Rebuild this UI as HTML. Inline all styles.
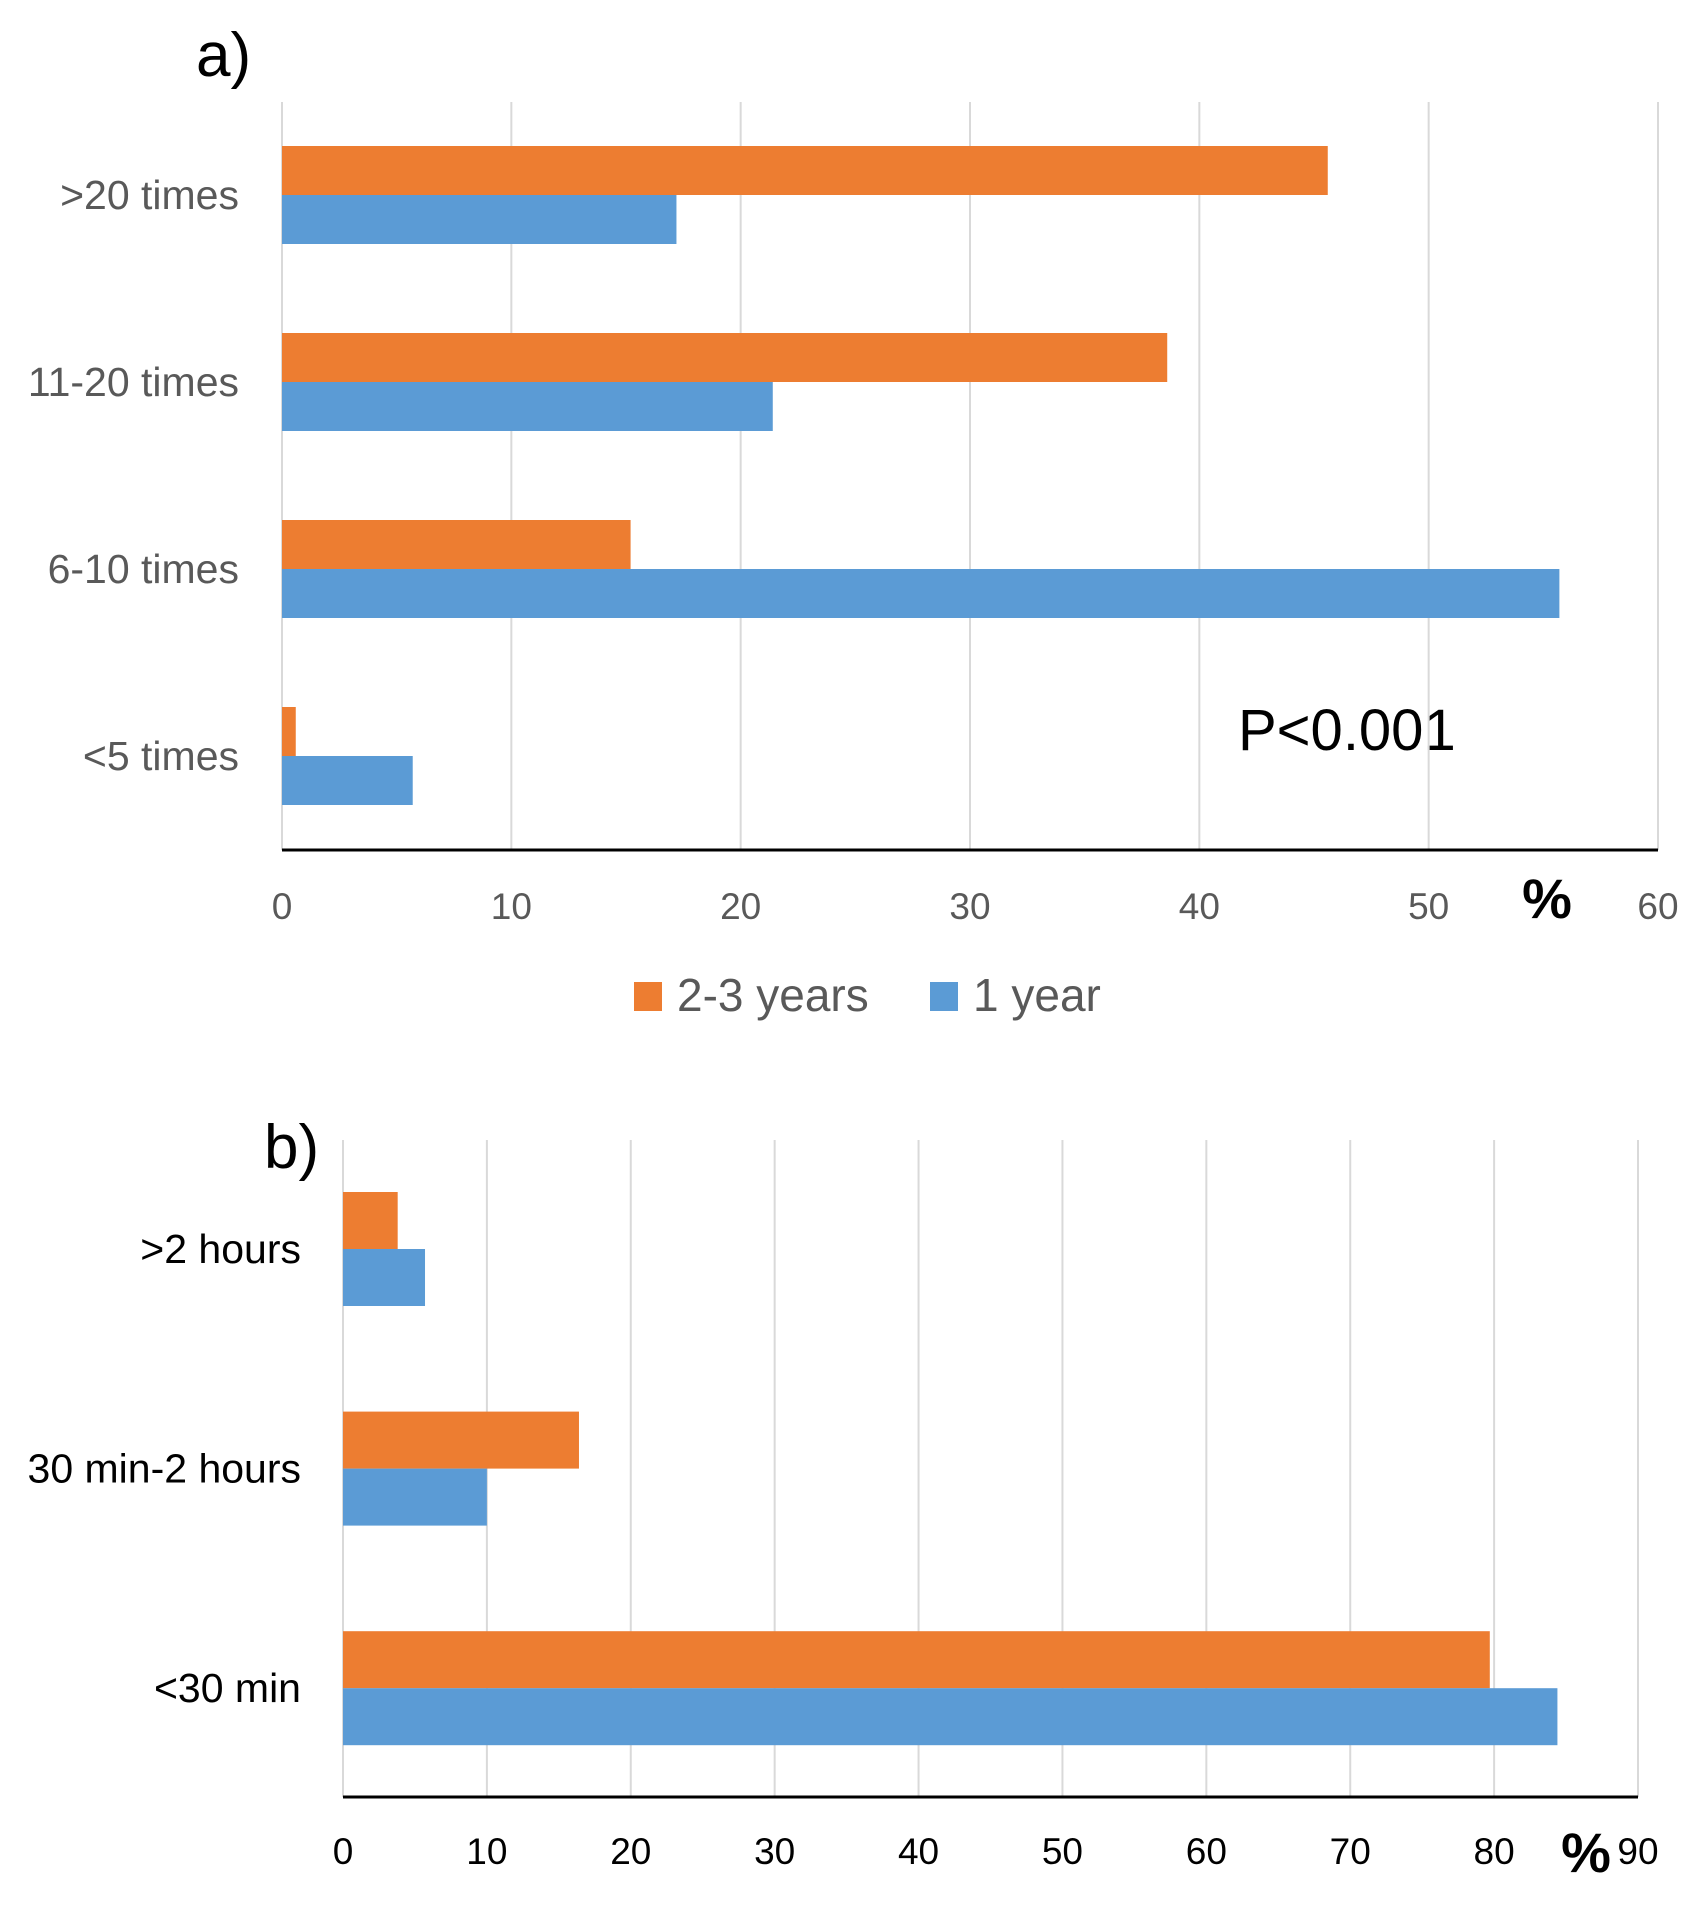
<!DOCTYPE html>
<html><head><meta charset="utf-8"><style>
html,body{margin:0;padding:0;background:#fff;}
svg{display:block;font-family:"Liberation Sans",sans-serif;}
</style></head><body>
<svg id="s" width="1699" height="1910" viewBox="0 0 1699 1910">
<text x="196" y="76" font-size="62" fill="#000">a)</text>
<text x="1238" y="750" font-size="58" fill="#000">P&lt;0.001</text>
<text x="1547" y="918" font-size="56" font-weight="bold" fill="#000" text-anchor="middle">%</text>
<g>
<rect x="634" y="982" width="28" height="29" fill="#ED7D31"></rect>
<text x="677" y="1011" font-size="46" fill="#595959">2-3 years</text>
<rect x="930" y="982" width="28" height="29" fill="#5B9BD5"></rect>
<text x="973" y="1011" font-size="46" fill="#595959">1 year</text>
</g>
<text x="264" y="1168" font-size="62" fill="#000">b)</text>
<text x="1586" y="1872" font-size="56" font-weight="bold" fill="#000" text-anchor="middle">%</text>
</svg>
<script>
const catsA = [">20 times", "11-20 times", "6-10 times", "<5 times"];
const olderA = [45.6, 38.6, 15.2, 0.6];
const youngA = [17.2, 21.4, 55.7, 5.7];
const ticksA = [0, 10, 20, 30, 40, 50, 60];
const catsB = [">2 hours", "30 min-2 hours", "<30 min"];
const olderB = [3.8, 16.4, 79.7];
const youngB = [5.7, 10.0, 84.4];
const ticksB = [0, 10, 20, 30, 40, 50, 60, 70, 80, 90];

const svg = document.getElementById('s');
const NS = 'http://www.w3.org/2000/svg';
function mk(tag, attrs, parent) {
  const e = document.createElementNS(NS, tag);
  for (const k in attrs) e.setAttribute(k, attrs[k]);
  (parent || svg).appendChild(e);
  return e;
}
function chart(cfg) {
  const g = mk('g', {});
  
  
  const xs = v => cfg.x0 + (v - cfg.min) / (cfg.max - cfg.min) * (cfg.x1 - cfg.x0);
  cfg.ticks.forEach(t => {
    const gl = mk('line', {x1: xs(t), x2: xs(t), y1: cfg.top, y2: cfg.axisY, stroke: '#d9d9d9', 'stroke-width': 2}, g);
    
    
    const tl = mk('text', {x: xs(t), y: cfg.tickY, 'font-size': 37, fill: cfg.tickColor, 'text-anchor': 'middle'}, g);
    tl.textContent = t;
    
    
  });
  const ax = mk('line', {x1: cfg.x0, x2: cfg.x1, y1: cfg.axisY, y2: cfg.axisY, stroke: '#000', 'stroke-width': 3}, g);
  
  
  cfg.cats.forEach((c, i) => {
    const yc = cfg.firstCenter + i * cfg.step;
    const o = mk('rect', {x: xs(0), y: yc - cfg.bh, width: xs(cfg.older[i]) - xs(0), height: cfg.bh, fill: '#ED7D31'}, g);
    
    
    const b = mk('rect', {x: xs(0), y: yc, width: xs(cfg.young[i]) - xs(0), height: cfg.bh, fill: '#5B9BD5'}, g);
    
    
    const l = mk('text', {x: cfg.labelX, y: yc + 14, 'font-size': 41, fill: cfg.labelColor, 'text-anchor': 'end'}, g);
    l.textContent = c;
    
    
  });
}
chart({name: 'chart-a', cats: catsA, older: olderA, young: youngA, ticks: ticksA, min: 0, max: 60,
  x0: 282, x1: 1658, top: 102, axisY: 850, tickY: 919, firstCenter: 195, step: 187, bh: 49,
  labelX: 239, labelColor: '#595959', tickColor: '#595959'});
chart({name: 'chart-b', cats: catsB, older: olderB, young: youngB, ticks: ticksB, min: 0, max: 90,
  x0: 343, x1: 1638, top: 1140, axisY: 1797, tickY: 1864, firstCenter: 1249, step: 219.6, bh: 57,
  labelX: 301, labelColor: '#000', tickColor: '#000'});
</script>
</body></html>
